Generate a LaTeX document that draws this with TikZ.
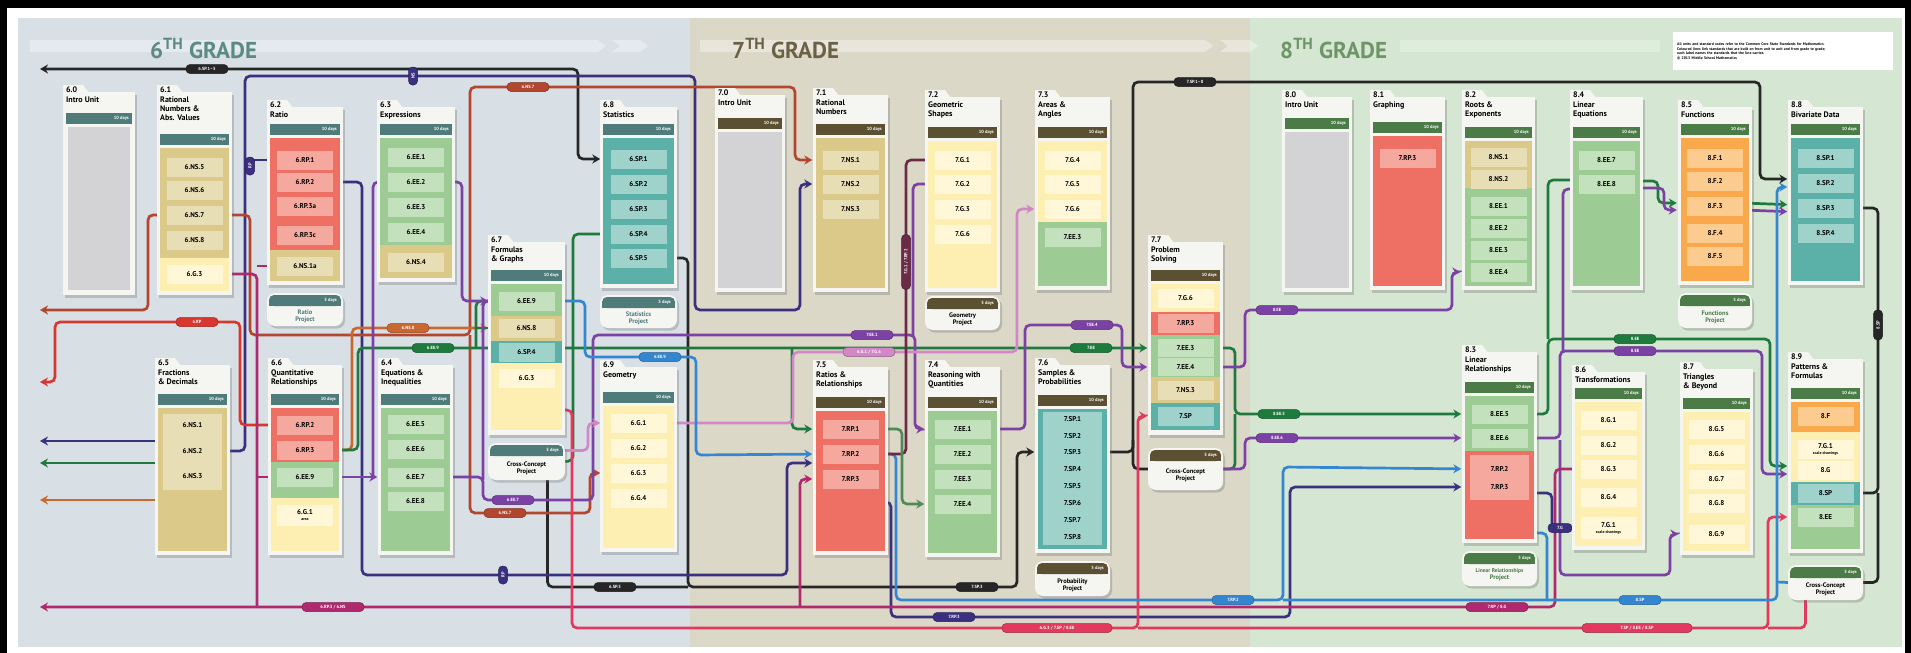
\documentclass[tikz,border=0pt]{standalone}
\usepackage{fontspec}
\setmainfont{PT Sans}
\usetikzlibrary{arrows.meta,shadows,calc,positioning}

% panels and cards
\definecolor{bgsix}{HTML}{D8E0E5}
\definecolor{bgseven}{HTML}{DCD8C8}
\definecolor{bgeight}{HTML}{D5E7D2}
\definecolor{barsix}{HTML}{4F7C7A}
\definecolor{barseven}{HTML}{5C5033}
\definecolor{bareight}{HTML}{4B7B47}
\definecolor{ttlsix}{HTML}{5B8A85}
\definecolor{ttlseven}{HTML}{6B6145}
\definecolor{ttleight}{HTML}{6E9468}
\definecolor{cardW}{HTML}{F5F5F2}
\definecolor{greyB}{HTML}{D3D3D5}
\definecolor{tanB}{HTML}{DBC98A}
\definecolor{tanL}{HTML}{E8DEB6}
\definecolor{redB}{HTML}{EE7064}
\definecolor{redL}{HTML}{F5A89E}
\definecolor{grnB}{HTML}{9CCB93}
\definecolor{grnL}{HTML}{C3E1BD}
\definecolor{tealB}{HTML}{5BB1A8}
\definecolor{tealL}{HTML}{9FD2CB}
\definecolor{yelB}{HTML}{FCEFB1}
\definecolor{yelL}{HTML}{FFF7D7}
\definecolor{orgB}{HTML}{F9A94B}
\definecolor{orgL}{HTML}{FCCB90}
% connector colours
\definecolor{lnNavy}{HTML}{3B2F7F}
\definecolor{lnBlack}{HTML}{262626}
\definecolor{lnBrick}{HTML}{B2462F}
\definecolor{lnRed}{HTML}{D8372F}
\definecolor{lnOrange}{HTML}{C9682F}
\definecolor{lnGreen}{HTML}{1F7B3D}
\definecolor{lnPurple}{HTML}{7C41A5}
\definecolor{lnMagenta}{HTML}{B0296E}
\definecolor{lnCrimson}{HTML}{E13A5E}
\definecolor{lnOrchid}{HTML}{D287C7}
\definecolor{lnBlue}{HTML}{3586D1}
\definecolor{lnMaroon}{HTML}{6B2B47}
\definecolor{lnMoss}{HTML}{4F8A57}

\pgfdeclarelayer{panels}
\pgfdeclarelayer{wires}
\pgfsetlayers{panels,wires,main}

\newcommand{\stdfont}{\fontsize{7}{8}\selectfont\bfseries}
\newcommand{\tagfont}{\fontsize{4.5}{5}\selectfont\bfseries}
\newcommand{\ttlfont}{\fontsize{8}{9.3}\selectfont\bfseries}

\tikzset{
    cardshadow/.style={drop shadow={shadow xshift=2pt, shadow yshift=-2.5pt, opacity=0.3, fill=black!60}},
    unittitle/.style={anchor=north west, align=left, inner sep=0pt, font=\ttlfont},
    daysnote/.style={anchor=east, text=white, inner sep=0pt, font=\fontsize{4.5}{5}\selectfont\bfseries},
    std/.style={fill=#1, minimum width=56, minimum height=19, inner sep=0pt, align=center, font=\stdfont},
    stdin/.style={minimum width=56, minimum height=15, inner sep=0pt, font=\stdfont},
    projbox/.style={fill=cardW, rounded corners=8pt, cardshadow, inner sep=0pt},
    projtext/.style={align=center, inner sep=0pt, font=\fontsize{6.5}{7}\selectfont\bfseries},
    gradettl/.style={anchor=west, inner sep=0pt, font=\fontsize{23}{24}\selectfont\bfseries},
    % connectors
    wire/.style={line width=2.7pt, rounded corners=5pt},
    intocard/.style={shorten >=10pt},
    tag/.style={fill=#1, draw=#1!70!black, line width=0.5pt, rounded corners=4pt,
        text=white, font=\tagfont, minimum width=42, minimum height=9, inner sep=0pt}
}

% x1, x2, tab top, bar top, bottom, bar colour, title, name
\newcommand{\unitcard}[8]{%
    \fill[cardW, cardshadow] (#1,#3+7) rectangle (#2,#5);
    \fill[cardW] (#1,#3) -- (#1+20,#3) -- (#1+26,#3+8) -- (#1,#3+8) -- cycle;
    \node[unittitle] (#8) at (#1+3,#3+2) {#7};
    \fill[#6] (#1+3,#4) rectangle (#2-3,#4+11);
    \node[daysnote] (#8d) at (#2-6,#4+5.5) {10 days};
}
% x1, x2, top, bottom, bar colour, text colour, text, name
\newcommand{\projectpill}[8]{%
    \node[projbox, minimum width=#2-#1, minimum height=#4-#3] (#8) at ({(#1+#2)/2},{(#3+#4)/2}) {};
    \fill[#5, rounded corners=5pt] (#1+2,#3+2) rectangle (#2-2,#3+13);
    \fill[#5] (#1+2,#3+8) rectangle (#2-2,#3+13);
    \node[daysnote] (#8d) at (#2-6,#3+7.5) {5 days};
    \node[projtext, text=#6] (#8t) at ({(#1+#2)/2},{#3+13+(#4-#3-13)/2}) {#7};
}

\begin{document}
\begin{tikzpicture}[x=1pt, y=-1pt, >={Stealth[length=8pt, width=9pt]}]
\useasboundingbox (0,0) rectangle (1911,653);

\begin{pgfonlayer}{panels}
    \fill[black] (0,0) rectangle (1911,653);
    \fill[white] (7,8) rectangle (1905,653);
    \fill[bgsix] (18,18) rectangle (690,647);
    \fill[bgseven] (690,18) rectangle (1250,647);
    \fill[bgeight] (1250,18) rectangle (1902,647);
    % faint arrow band
    \fill[white, opacity=0.35] (30,40) -- (598,40) -- (606,46) -- (598,52) -- (30,52) -- cycle;
    \fill[white, opacity=0.35] (612,40) -- (640,40) -- (648,46) -- (640,52) -- (612,52) -- (620,46) -- cycle;
    \fill[white, opacity=0.35] (700,40) -- (1205,40) -- (1213,46) -- (1205,52) -- (700,52) -- cycle;
    \fill[white, opacity=0.35] (1220,40) -- (1250,40) -- (1258,46) -- (1250,52) -- (1220,52) -- (1228,46) -- cycle;
    \fill[white, opacity=0.25] (1400,40) -- (1660,40) -- (1660,52) -- (1400,52) -- cycle;
    \node[gradettl, text=ttlsix] (g6) at (150,49) {6\textsuperscript{TH} GRADE};
    \node[gradettl, text=ttlseven] (g7) at (732,49) {7\textsuperscript{TH} GRADE};
    \node[gradettl, text=ttleight] (g8) at (1280,49) {8\textsuperscript{TH} GRADE};
    \node[fill=white, anchor=north west, minimum width=220, minimum height=38, inner sep=3pt,
          text width=212, align=left, font=\fontsize{3.8}{4.6}\selectfont\bfseries] (legend) at (1673,32)
        {All units and standard codes refer to the Common Core State Standards for Mathematics.\\
         Coloured lines link standards that are built on from unit to unit and from grade to grade;\\
         each label names the standards that the line carries.\\
         © 2013 Middle School Mathematics};
\end{pgfonlayer}

% ---------------- 6th grade ----------------
\unitcard{63}{135}{85}{113}{295}{barsix}{6.0\\Intro Unit}{u60}
\fill[greyB] (68,127) rectangle (130,290);

\unitcard{157}{232}{85}{134}{295}{barsix}{6.1\\Rational\\Numbers \&\\Abs. Values}{u61}
\fill[tanB] (160,148) rectangle (229,258);
\fill[yelB] (160,258) rectangle (229,291);
\node[std=tanL] (ns5) at (194.5,167) {6.NS.5};
\node[std=tanL] (ns6) at (194.5,190) {6.NS.6};
\node[std=tanL] (ns7) at (194.5,215) {6.NS.7};
\node[std=tanL] (ns8) at (194.5,240) {6.NS.8};
\node[std=yelL] (g3a) at (194.5,274) {6.G.3};

\unitcard{267}{343}{100}{124}{285}{barsix}{6.2\\Ratio}{u62}
\fill[redB] (270,138) rectangle (340,250);
\fill[tanB] (270,250) rectangle (340,281);
\node[std=redL] (rp1) at (305,160) {6.RP.1};
\node[std=redL] (rp2) at (305,182) {6.RP.2};
\node[std=redL] (rp3a) at (305,206) {6.RP.3a};
\node[std=redL] (rp3c) at (305,235) {6.RP.3c};
\node[std=tanL] (ns1a) at (305,266) {6.NS.1a};
\projectpill{267}{343}{293}{326}{barsix}{barsix}{Ratio\\Project}{p62}

\unitcard{377}{455}{100}{124}{282}{barsix}{6.3\\Expressions}{u63}
\fill[grnB] (380,138) rectangle (452,245);
\fill[tanB] (380,245) rectangle (452,278);
\node[std=grnL] (ee1) at (416,157) {6.EE.1};
\node[std=grnL] (ee2) at (416,182) {6.EE.2};
\node[std=grnL] (ee3) at (416,207) {6.EE.3};
\node[std=grnL] (ee4) at (416,232) {6.EE.4};
\node[std=tanL] (ns4) at (416,262) {6.NS.4};

\unitcard{600}{677}{100}{124}{288}{barsix}{6.8\\Statistics}{u68}
\fill[tealB] (603,138) rectangle (674,284);
\node[std=tealL] (st1) at (638.5,159) {6.SP.1};
\node[std=tealL] (st2) at (638.5,184) {6.SP.2};
\node[std=tealL] (st3) at (638.5,209) {6.SP.3};
\node[std=tealL] (st4) at (638.5,234) {6.SP.4};
\node[std=tealL] (st5) at (638.5,258) {6.SP.5};
\projectpill{600}{677}{295}{328}{barsix}{barsix}{Statistics\\Project}{p68}

\unitcard{488}{565}{235}{270}{435}{barsix}{6.7\\Formulas\\\& Graphs}{u67}
\fill[grnB] (491,284) rectangle (562,316);
\fill[tanB] (491,316) rectangle (562,341);
\fill[tealB] (491,341) rectangle (562,363);
\fill[yelB] (491,363) rectangle (562,430);
\node[std=grnL] (mee9) at (526.5,301) {6.EE.9};
\node[std=tanL] (mns8) at (526.5,328) {6.NS.8};
\node[std=tealL] (msp4) at (526.5,352) {6.SP.4};
\node[std=yelL] (mg3) at (526.5,378) {6.G.3};
\projectpill{488}{565}{443}{480}{barsix}{black}{Cross-Concept\\Project}{p67}

\unitcard{155}{230}{358}{394}{555}{barsix}{6.5\\Fractions\\\& Decimals}{u65}
\fill[tanB] (158,408) rectangle (227,551);
\fill[tanL] (163,414) rectangle (222,490);
\node[stdin] (fd1) at (192.5,425) {6.NS.1};
\node[stdin] (fd2) at (192.5,451) {6.NS.2};
\node[stdin] (fd3) at (192.5,476) {6.NS.3};

\unitcard{268}{342}{358}{394}{555}{barsix}{6.6\\Quantitative\\Relationships}{u66}
\fill[redB] (271,408) rectangle (339,462);
\fill[grnB] (271,462) rectangle (339,498);
\fill[yelB] (271,498) rectangle (339,551);
\node[std=redL] (qrp2) at (305,425) {6.RP.2};
\node[std=redL] (qrp3) at (305,450) {6.RP.3};
\node[std=grnL] (qee9) at (305,477) {6.EE.9};
\node[std=yelL, minimum height=21] (qg) at (305,515) {6.G.1\\[-2pt]{\fontsize{4}{4}\selectfont area}};

\unitcard{378}{453}{358}{394}{555}{barsix}{6.4\\Equations \&\\Inequalities}{u64}
\fill[grnB] (381,408) rectangle (450,551);
\node[std=grnL] (eq5) at (415.5,424) {6.EE.5};
\node[std=grnL] (eq6) at (415.5,449) {6.EE.6};
\node[std=grnL] (eq7) at (415.5,477) {6.EE.7};
\node[std=grnL] (eq8) at (415.5,501) {6.EE.8};

\unitcard{600}{677}{360}{392}{552}{barsix}{6.9\\Geometry}{u69}
\fill[yelB] (603,406) rectangle (674,548);
\node[std=yelL] (geo1) at (638.5,423) {6.G.1};
\node[std=yelL] (geo2) at (638.5,448) {6.G.2};
\node[std=yelL] (geo3) at (638.5,473) {6.G.3};
\node[std=yelL] (geo4) at (638.5,498) {6.G.4};

% ---------------- 7th grade ----------------
\unitcard{715}{785}{88}{118}{292}{barseven}{7.0\\Intro Unit}{u70}
\fill[greyB] (718,132) rectangle (782,288);

\unitcard{813}{888}{88}{124}{292}{barseven}{7.1\\Rational\\Numbers}{u71}
\fill[tanB] (816,138) rectangle (885,288);
\node[std=tanL] (sns1) at (850.5,160) {7.NS.1};
\node[std=tanL] (sns2) at (850.5,184) {7.NS.2};
\node[std=tanL] (sns3) at (850.5,209) {7.NS.3};

\unitcard{925}{1000}{90}{127}{292}{barseven}{7.2\\Geometric\\Shapes}{u72}
\fill[yelB] (928,141) rectangle (997,288);
\node[std=yelL] (sg1) at (962.5,160) {7.G.1};
\node[std=yelL] (sg2) at (962.5,184) {7.G.2};
\node[std=yelL] (sg3) at (962.5,209) {7.G.3};
\node[std=yelL] (sg6) at (962.5,234) {7.G.6};
\projectpill{925}{1000}{296}{330}{barseven}{black}{Geometry\\Project}{p72}

\unitcard{1035}{1110}{90}{127}{290}{barseven}{7.3\\Areas \&\\Angles}{u73}
\fill[yelB] (1038,141) rectangle (1107,222);
\fill[grnB] (1038,222) rectangle (1107,286);
\node[std=yelL] (ag4) at (1072.5,160) {7.G.4};
\node[std=yelL] (ag5) at (1072.5,184) {7.G.5};
\node[std=yelL] (ag6) at (1072.5,209) {7.G.6};
\node[std=grnL] (aee3) at (1072.5,237) {7.EE.3};

\unitcard{1148}{1223}{235}{270}{435}{barseven}{7.7\\Problem\\Solving}{u77}
\fill[yelB] (1151,284) rectangle (1220,312);
\fill[redB] (1151,312) rectangle (1220,335);
\fill[grnB] (1151,335) rectangle (1220,377);
\fill[tanB] (1151,377) rectangle (1220,403);
\fill[tealB] (1151,403) rectangle (1220,430);
\node[std=yelL] (pg6) at (1185.5,298) {7.G.6};
\node[std=redL] (prp3) at (1185.5,323) {7.RP.3};
\node[std=grnL, minimum height=18] (pee3) at (1185.5,348) {7.EE.3};
\node[std=grnL, minimum height=18] (pee4) at (1185.5,367) {7.EE.4};
\node[std=tanL] (pns3) at (1185.5,390) {7.NS.3};
\node[std=tealL] (psp) at (1185.5,416) {7.SP};
\projectpill{1148}{1223}{448}{490}{barseven}{black}{Cross-Concept\\Project}{p77}

\unitcard{813}{888}{360}{397}{555}{barseven}{7.5\\Ratios \&\\Relationships}{u75}
\fill[redB] (816,411) rectangle (885,551);
\node[std=redL] (srp1) at (850.5,429) {7.RP.1};
\node[std=redL] (srp2) at (850.5,454) {7.RP.2};
\node[std=redL] (srp3) at (850.5,479) {7.RP.3};

\unitcard{925}{1000}{360}{397}{557}{barseven}{7.4\\Reasoning with\\Quantities}{u74}
\fill[grnB] (928,411) rectangle (997,553);
\node[std=grnL] (see1) at (962.5,429) {7.EE.1};
\node[std=grnL] (see2) at (962.5,454) {7.EE.2};
\node[std=grnL] (see3) at (962.5,479) {7.EE.3};
\node[std=grnL] (see4) at (962.5,504) {7.EE.4};

\unitcard{1035}{1110}{358}{395}{553}{barseven}{7.6\\Samples \&\\Probabilities}{u76}
\fill[tealB] (1038,409) rectangle (1107,549);
\fill[tealL] (1043,412) rectangle (1102,545);
\node[stdin] (ssp1) at (1072.5,419) {7.SP.1};
\node[stdin] (ssp2) at (1072.5,436) {7.SP.2};
\node[stdin] (ssp3) at (1072.5,452) {7.SP.3};
\node[stdin] (ssp4) at (1072.5,469) {7.SP.4};
\node[stdin] (ssp5) at (1072.5,486) {7.SP.5};
\node[stdin] (ssp6) at (1072.5,503) {7.SP.6};
\node[stdin] (ssp7) at (1072.5,520) {7.SP.7};
\node[stdin] (ssp8) at (1072.5,537) {7.SP.8};
\projectpill{1035}{1110}{561}{596}{barseven}{black}{Probability\\Project}{p76}

% ---------------- 8th grade ----------------
\unitcard{1282}{1352}{90}{118}{292}{bareight}{8.0\\Intro Unit}{u80}
\fill[greyB] (1285,132) rectangle (1349,288);

\unitcard{1370}{1445}{90}{122}{290}{bareight}{8.1\\Graphing}{u81}
\fill[redB] (1373,136) rectangle (1442,286);
\node[std=redL] (grp3) at (1407.5,158) {7.RP.3};

\unitcard{1462}{1535}{90}{127}{290}{bareight}{8.2\\Roots \&\\Exponents}{u82}
\fill[tanB] (1465,141) rectangle (1532,188);
\fill[grnB] (1465,188) rectangle (1532,286);
\node[std=tanL] (ens1) at (1498.5,157) {8.NS.1};
\node[std=tanL] (ens2) at (1498.5,179) {8.NS.2};
\node[std=grnL] (eee1) at (1498.5,206) {8.EE.1};
\node[std=grnL] (eee2) at (1498.5,228) {8.EE.2};
\node[std=grnL] (eee3) at (1498.5,250) {8.EE.3};
\node[std=grnL] (eee4) at (1498.5,272) {8.EE.4};

\unitcard{1570}{1643}{90}{127}{290}{bareight}{8.4\\Linear\\Equations}{u84}
\fill[grnB] (1573,141) rectangle (1640,286);
\node[std=grnL] (lee7) at (1606.5,160) {8.EE.7};
\node[std=grnL] (lee8) at (1606.5,184) {8.EE.8};

\unitcard{1678}{1752}{100}{124}{285}{bareight}{8.5\\Functions}{u85}
\fill[orgB] (1681,138) rectangle (1749,281);
\node[std=orgL] (fn1) at (1715,158) {8.F.1};
\node[std=orgL] (fn2) at (1715,181) {8.F.2};
\node[std=orgL] (fn3) at (1715,206) {8.F.3};
\node[std=orgL] (fn4) at (1715,233) {8.F.4};
\node[std=orgL] (fn5) at (1715,256) {8.F.5};
\projectpill{1678}{1752}{293}{328}{bareight}{bareight}{Functions\\Project}{p85}

\unitcard{1788}{1863}{100}{124}{285}{bareight}{8.8\\Bivariate Data}{u88}
\fill[tealB] (1791,138) rectangle (1860,281);
\node[std=tealL] (bsp1) at (1825.5,158) {8.SP.1};
\node[std=tealL] (bsp2) at (1825.5,183) {8.SP.2};
\node[std=tealL] (bsp3) at (1825.5,208) {8.SP.3};
\node[std=tealL] (bsp4) at (1825.5,233) {8.SP.4};

\unitcard{1462}{1537}{345}{382}{543}{bareight}{8.3\\Linear\\Relationships}{u83}
\fill[grnB] (1465,396) rectangle (1534,451);
\fill[redB] (1465,451) rectangle (1534,539);
\fill[redL] (1470,455) rectangle (1529,500);
\node[std=grnL] (ree5) at (1499.5,414) {8.EE.5};
\node[std=grnL] (ree6) at (1499.5,438) {8.EE.6};
\node[stdin] (rrp2) at (1499.5,469) {7.RP.2};
\node[stdin] (rrp3) at (1499.5,487) {7.RP.3};
\projectpill{1462}{1537}{551}{586}{bareight}{bareight}{{\fontsize{5.5}{6}\selectfont Linear Relationships}\\Project}{p83}

\unitcard{1572}{1645}{365}{388}{550}{bareight}{8.6\\Transformations}{u86}
\fill[yelB] (1575,402) rectangle (1642,546);
\node[std=yelL] (tg1) at (1608.5,420) {8.G.1};
\node[std=yelL] (tg2) at (1608.5,445) {8.G.2};
\node[std=yelL] (tg3) at (1608.5,469) {8.G.3};
\node[std=yelL] (tg4) at (1608.5,497) {8.G.4};
\node[std=yelL, minimum height=22] (tg71) at (1608.5,528) {7.G.1\\[-2pt]{\fontsize{4}{4}\selectfont scale drawings}};

\unitcard{1680}{1753}{362}{398}{555}{bareight}{8.7\\Triangles\\\& Beyond}{u87}
\fill[yelB] (1683,412) rectangle (1750,551);
\node[std=yelL] (tr5) at (1716.5,429) {8.G.5};
\node[std=yelL] (tr6) at (1716.5,454) {8.G.6};
\node[std=yelL] (tr7) at (1716.5,479) {8.G.7};
\node[std=yelL] (tr8) at (1716.5,503) {8.G.8};
\node[std=yelL] (tr9) at (1716.5,534) {8.G.9};

\unitcard{1788}{1863}{352}{388}{553}{bareight}{8.9\\Patterns \&\\Formulas}{u89}
\fill[orgB] (1791,402) rectangle (1860,432);
\fill[yelB] (1791,432) rectangle (1860,482);
\fill[tealB] (1791,482) rectangle (1860,505);
\fill[grnB] (1791,505) rectangle (1860,549);
\node[std=orgL] (ff) at (1825.5,416) {8.F};
\node[std=yelL] (fg7) at (1825.5,449) {7.G.1\\[-2pt]{\fontsize{4}{4}\selectfont scale drawings}};
\node[std=yelL] (fg8) at (1825.5,470) {8.G};
\node[std=tealL] (fsp) at (1825.5,493) {8.SP};
\node[std=grnL] (fee) at (1825.5,517) {8.EE};
\projectpill{1788}{1863}{565}{600}{bareight}{black}{Cross-Concept\\Project}{p89}

% ---------------- connectors ----------------
\begin{pgfonlayer}{wires}
    \coordinate (arrK) at (40,69);
    \coordinate (arrB) at (40,310);
    \coordinate (arrR) at (40,382);
    \coordinate (arrN) at (40,441);
    \coordinate (arrG) at (40,463);
    \coordinate (arrO) at (40,500);
    \coordinate (arrM) at (40,607);
    \coordinate (c67out) at (565,410);

    % black
    \draw[wire,lnBlack,<->,intocard] (arrK) -| (578,159) -- (st1.west);
    \draw[wire,lnBlack,->,intocard] (ssp3.east) -| (1133,82) -| (1760,179) -- ($(bsp2.west)+(0,-4)$);
    \draw[wire,lnBlack] (1133,440) |- (p77.west);
    \draw[wire,lnBlack,->,intocard] (st5.east) -| (688,587) -| (1017,452) -- (ssp3.west);
    \draw[wire,lnBlack] ($(p67.south)+(21,0)$) |- (688,587);
    \draw[wire,lnBlack] (bsp3.east) -| (1878,493) -- (fsp.east);
    \draw[wire,lnBlack] (p89.east) -| (1878,493);

    % navy
    \draw[wire,lnNavy,->,intocard] (fd2.east) -| (245,76) -| (695,310) -| (800,184) -- (sns2.west);
    \draw[wire,lnNavy,->] ($(fd1.west)+(0,16)$) -- (arrN);
    \draw[wire,lnNavy] (rp1.west) -- (245,160);
    \draw[wire,lnNavy,->,intocard] (rp2.east) -| (362,575) -| (787,463) -- ($(srp2.west)+(0,9)$);
    \draw[wire,lnNavy,->,intocard] ($(srp3.east)+(0,23)$) -| (891,617) -| (1290,487) -- (rrp3.west);
    \draw[wire,lnNavy,->,intocard] ($(rrp3.east)+(0,6)$) -| (1552,528) -- (tg71.west);

    % brick
    \draw[wire,lnBrick,->] (ns7.west) -| (148,310) -- (arrB);
    \draw[wire,lnBrick,->,intocard] (ns7.east) -| (250,335) -| (470,87) -| (795,160) -- (sns1.west);
    \draw[wire,lnBrick,->,intocard] (470,335) |- (590,513) |- (geo3.west);

    % red and orange
    \draw[wire,lnRed,->] (qrp2.west) -| (240,322) -| (55,382) -- (arrR);
    \draw[wire,lnOrange,->,intocard] (qrp3.east) -| (352,328) -- (mns8.west);
    \draw[wire,lnOrange,->] ($(fd3.west)+(0,24)$) -- (arrO);

    % green
    \draw[wire,lnGreen,->] ($(fd2.west)+(0,12)$) -- (arrG);
    \draw[wire,lnGreen,->,intocard] (qrp3.east) -| (358,348) -- (pee3.west);
    \draw[wire,lnGreen,->,intocard] (792,348) |- (srp1.west);
    \draw[wire,lnGreen] (st4.west) -| (573,461) -- (p67.east);
    \draw[wire,lnGreen] (mee9.west) -| (476,348);
    \draw[wire,lnGreen] (mns8.west) -- (476,328);
    \draw[wire,lnGreen,->,intocard] (pee3.east) -| (1235,414) -- (ree5.west);
    \draw[wire,lnGreen] (p77.east) -| (1235,414);
    \draw[wire,lnGreen,->,intocard] (ree5.east) -| (1548,339) -| (1770,466) -- ($(fg8.west)+(0,-4)$);
    \draw[wire,lnGreen] ($(lee8.west)+(0,-4)$) -| (1548,339);
    \draw[wire,lnGreen,->,intocard] ($(lee8.east)+(0,-3)$) -| (1658,203) -- ($(fn3.west)+(0,-3)$);
    \draw[wire,lnGreen,->,intocard] ($(fn3.east)+(0,-3)$) -- ($(bsp3.west)+(0,-3)$);

    % purple
    \draw[wire,lnPurple,->,intocard] (ee2.east) -| (462,301) -- (mee9.west);
    \draw[wire,lnPurple] (ee2.west) -| (373,477);
    \draw[wire,lnPurple,->,intocard] (qee9.east) -- (eq7.west);
    \draw[wire,lnPurple,->,intocard] (eq7.east) -| (483,500) -| (593,335) -| (915,429) -- (see1.west);
    \draw[wire,lnPurple] (mee9.west) -| (483,480);
    \draw[wire,lnPurple] (sg2.west) -| (913,335);
    \draw[wire,lnPurple,->,intocard] (see1.east) -| (1025,325) -| (1122,367) -- (pee4.west);
    \draw[wire,lnPurple,->,intocard] (pee4.east) -| (1245,310) -| (1452,272) -- (eee4.west);
    \draw[wire,lnPurple,->,intocard] (p77.east) -| (1245,438) -- (ree6.west);
    \draw[wire,lnPurple,->,intocard] (ree6.east) -| (1560,351) -| (1762,474) -- ($(fg8.west)+(0,4)$);
    \draw[wire,lnPurple] ($(lee8.west)+(0,5)$) -| (1563,351);
    \draw[wire,lnPurple,->,intocard] (1560,440) |- (1670,575) |- (tr9.west);
    \draw[wire,lnPurple,->,intocard] ($(lee8.east)+(0,4)$) -| (1664,210) -- ($(fn3.west)+(0,4)$);
    \draw[wire,lnPurple,->,intocard] ($(fn3.east)+(0,4)$) -- ($(bsp3.west)+(0,4)$);

    % magenta
    \draw[wire,lnMagenta,->] (tg3.west) -| (1555,607) -- (arrM);
    \draw[wire,lnMagenta] (g3a.east) -| (257,607);
    \draw[wire,lnMagenta] (ns1a.west) -- (257,266);
    \draw[wire,lnMagenta] (qee9.west) -- (257,477);
    \draw[wire,lnMagenta,->,intocard] (800,607) |- (srp3.west);

    % crimson
    \draw[wire,lnCrimson,->,intocard] (c67out) -| (572,628) -| (1138,416) -- (psp.west);
    \draw[wire,lnCrimson,->,intocard] (1138,628) -| (1768,517) -- (fee.west);
    \draw[wire,lnCrimson] ($(p89.south)+(-20,0)$) |- (1768,628);

    % orchid
    \draw[wire,lnOrchid,->,intocard] (geo1.east) -| (793,352) -| (1017,209) -- (ag6.west);
    \draw[wire,lnOrchid,->,intocard] ($(p67.east)+(0,-11)$) -| (588,423) -- (geo1.west);

    % blue
    \draw[wire,lnBlue,->,intocard] (mee9.east) -| (585,357) -| (696,455) -- (srp2.west);
    \draw[wire,lnBlue,->,intocard] (srp2.east) -| (896,600) -| (1283,467) -- (rrp2.west);
    \draw[wire,lnBlue,->,intocard] (1283,600) -| (1777,187) -- ($(bsp2.west)+(0,4)$);
    \draw[wire,lnBlue] ($(rrp3.east)+(0,46)$) -| (1547,600);
    \draw[wire,lnBlue] (1777,582) -- (p89.west);

    % maroon and moss
    \draw[wire,lnMaroon] (sg1.west) -| (906,454) -- (srp2.east);
    \draw[wire,lnMoss,->,intocard] (srp1.east) -| (902,504) -- (see4.west);

    % labels on the lines
    \node[tag=lnBlack] (tK1) at (207,69) {6.SP.1--5};
    \node[tag=lnBlack] (tK2) at (1195,82) {7.SP.1--8};
    \node[tag=lnBlack] (tK3) at (615,587) {6.SP.5};
    \node[tag=lnBlack] (tK4) at (977,587) {7.SP.3};
    \node[tag=lnBlack, rotate=90, minimum width=30] (tK5) at (1878,325) {8.SP};
    \node[tag=lnNavy, rotate=90, minimum width=18] (tN1) at (250,166) {RP};
    \node[tag=lnNavy, rotate=90, minimum width=18] (tN2) at (413,76) {NS};
    \node[tag=lnNavy, rotate=90, minimum width=18] (tN3) at (503,575) {RP};
    \node[tag=lnNavy] (tN4) at (954,617) {7.RP.3};
    \node[tag=lnNavy, minimum width=24] (tN5) at (1560,528) {7.G};
    \node[tag=lnBrick] (tB1) at (528,87) {6.NS.7};
    \node[tag=lnBrick] (tB2) at (505,513) {6.NS.7};
    \node[tag=lnRed] (tR1) at (197,322) {6.RP};
    \node[tag=lnOrange] (tO2) at (408,328) {6.NS.8};
    \node[tag=lnGreen] (tG1) at (433,348) {6.EE.9};
    \node[tag=lnGreen] (tG2) at (1091,348) {7.EE};
    \node[tag=lnGreen] (tG4) at (1279,414) {8.EE.5};
    \node[tag=lnGreen] (tG3) at (1635,339) {8.EE};
    \node[tag=lnPurple] (tP1) at (513,500) {6.EE.7};
    \node[tag=lnPurple] (tP2) at (872,335) {7.EE.1};
    \node[tag=lnPurple] (tP3) at (1092,325) {7.EE.4};
    \node[tag=lnPurple] (tP4) at (1277,310) {8.EE};
    \node[tag=lnPurple] (tP5) at (1277,438) {8.EE.6};
    \node[tag=lnPurple] (tP6) at (1635,351) {8.EE};
    \node[tag=lnMagenta, minimum width=62] (tM1) at (333,607) {6.RP.3 / 6.NS};
    \node[tag=lnMagenta, minimum width=62] (tM2) at (1497,607) {7.RP / 8.G};
    \node[tag=lnCrimson, minimum width=110] (tC1) at (1057,628) {6.G.3 / 7.SP / 8.EE};
    \node[tag=lnCrimson, minimum width=110] (tC2) at (1637,628) {7.SP / 8.EE / 8.SP};
    \node[tag=lnOrchid, minimum width=52] (tO1) at (869,352) {6.G.1 / 7.G.6};
    \node[tag=lnBlue] (tL1) at (660,357) {6.EE.9};
    \node[tag=lnBlue] (tL2) at (1233,600) {7.RP.2};
    \node[tag=lnBlue] (tL3) at (1640,600) {8.SP};
    \node[tag=lnMaroon, rotate=90, minimum width=55] (tW1) at (906,262) {7.G.1 / 7.RP.2};
\end{pgfonlayer}

\end{tikzpicture}
\end{document}
